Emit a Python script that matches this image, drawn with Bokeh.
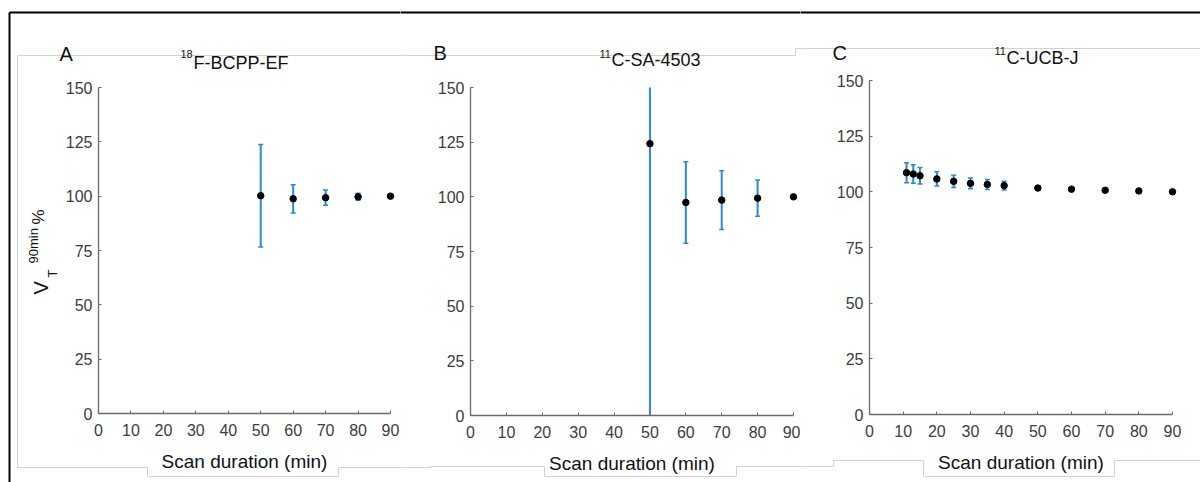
import math
from bokeh.plotting import figure
from bokeh.models import Range1d, FixedTicker
from bokeh.core.properties import value
from bokeh.layouts import row
from bokeh.embed import file_html
from bokeh.resources import INLINE

# ---------------- data ----------------
x_tick_values = [0, 10, 20, 30, 40, 50, 60, 70, 80, 90]
y_tick_values = [0, 25, 50, 75, 100, 125, 150]

panel_letters = ["A", "B", "C"]
tracer_isotopes = ["18", "11", "11"]
tracer_names = ["F-BCPP-EF", "C-SA-4503", "C-UCB-J"]
x_label = "Scan duration (min)"

a_duration = [50, 60, 70, 80, 90]
a_vt_pct = [100.2, 98.8, 99.3, 99.7, 100.0]
a_err = [23.6, 6.5, 3.5, 1.6, 0.0]

b_duration = [50, 60, 70, 80, 90]
b_vt_pct = [124.3, 97.4, 98.5, 99.4, 100.0]
b_err = [140.0, 18.6, 13.4, 8.3, 0.0]

c_duration = [11, 13, 15, 20, 25, 30, 35, 40, 50, 60, 70, 80, 90]
c_vt_pct = [108.6, 108.0, 107.2, 105.8, 104.7, 103.8, 103.3, 102.8, 101.7, 101.2, 100.7, 100.4, 100.0]
c_err = [4.5, 4.2, 3.7, 3.2, 2.7, 2.4, 2.2, 2.0, 1.0, 0.8, 0.6, 0.4, 0.0]

X_MIN, X_MAX = 0, 90
Y_MIN, Y_MAX = 0, 150

FONT = "Liberation Sans"
BLUE = "#2a8bd3"
AXIS = "#6a6a6a"
TICKLAB = "#3c3c3c"
GREY = "#d2d2d2"

TOP_PAGE = 0
BOTTOM_PAGE = 482
# page geometry: figure x extent, pixel of x=0, x=90, y=0, y=150
geo = [
    dict(x0=0, x1=400, ox=98, ex=390, oy=413, ey=87),
    dict(x0=400, x1=800, ox=470, ex=793, oy=415, ey=87),
    dict(x0=800, x1=1200, ox=869, ex=1172, oy=414, ey=80),
]

# decorative frame lines (page coordinates): (x1, y1, x2, y2)
black_lines = [(9, 12, 1200, 12), (9, 12, 9, 482)]
grey_lines = [(17, 55, 795, 55), (795, 55, 795, 48), (795, 48, 1200, 48),
              (17, 55, 17, 467), (17, 467, 147, 467), (147, 467, 147, 476), (147, 476, 338, 476),
              (338, 476, 338, 467), (338, 467, 430, 467), (430, 467, 430, 466), (430, 466, 544, 466),
              (544, 466, 544, 476), (544, 476, 736, 476), (736, 476, 736, 466), (736, 466, 833, 466),
              (833, 466, 833, 460), (833, 460, 923, 460), (923, 460, 923, 476), (923, 476, 1114, 476),
              (1114, 476, 1114, 460), (1114, 460, 1200, 460)]


def mapper(g):
    sx = (g["ex"] - g["ox"]) / (X_MAX - X_MIN)
    sy = (g["oy"] - g["ey"]) / (Y_MAX - Y_MIN)
    fx = lambda px: (px - g["ox"]) / sx
    fy = lambda py: (g["oy"] - py) / sy
    return fx, fy


def txt(p, g, text, px, py, size, color="#111111", angle=0.0):
    fx, fy = mapper(g)
    p.text(x=[fx(px)], y=[fy(py)], text=[text], text_font=value(FONT),
           text_font_size=value(f"{size}px"), text_color=color,
           text_align="left", text_baseline="alphabetic", angle=angle)


def make_panel(i, xs, ys, errs):
    g = geo[i]
    fx, fy = mapper(g)
    W = g["x1"] - g["x0"]
    H = BOTTOM_PAGE - TOP_PAGE
    p = figure(frame_width=W, frame_height=H, min_border=0,
               x_range=Range1d(fx(g["x0"]), fx(g["x1"])),
               y_range=Range1d(fy(BOTTOM_PAGE), fy(TOP_PAGE)),
               output_backend="svg", toolbar_location=None)
    p.background_fill_color = "white"
    p.border_fill_color = "white"
    p.outline_line_color = None
    p.grid.visible = False
    p.xaxis.fixed_location = Y_MIN
    p.yaxis.fixed_location = X_MIN
    p.xaxis.bounds = (X_MIN, X_MAX)
    p.yaxis.bounds = (Y_MIN, Y_MAX)

    for ax in (p.xaxis, p.yaxis):
        ax.axis_line_color = AXIS
        ax.axis_line_width = 1.3
        ax.major_tick_line_color = AXIS
        ax.major_tick_line_width = 1.0
        ax.major_tick_in = 3
        ax.major_tick_out = 0
        ax.minor_tick_line_color = None
        ax.major_label_text_font = FONT
        ax.major_label_text_font_size = "16px"
        ax.major_label_text_color = TICKLAB
    p.xaxis.ticker = FixedTicker(ticks=x_tick_values)
    p.yaxis.ticker = FixedTicker(ticks=y_tick_values)
    p.xaxis.major_label_standoff = 10
    p.yaxis.major_label_standoff = 6
    p.xaxis.axis_label = x_label
    p.xaxis.axis_label_text_font = FONT
    p.xaxis.axis_label_text_font_size = "19px"
    p.xaxis.axis_label_text_font_style = "normal"
    p.xaxis.axis_label_text_color = "#111111"
    p.xaxis.axis_label_standoff = 12

    # decorative frame lines
    for (a, b, c, d) in grey_lines:
        p.segment(x0=[fx(a)], y0=[fy(b)], x1=[fx(c)], y1=[fy(d)], line_color=GREY, line_width=1)
    for (a, b, c, d) in black_lines:
        p.segment(x0=[fx(a)], y0=[fy(b)], x1=[fx(c)], y1=[fy(d)], line_color="black", line_width=2)

    # error bars, clipped to the axis limits
    lower = [max(y - e, Y_MIN) for y, e in zip(ys, errs)]
    upper = [min(y + e, Y_MAX) for y, e in zip(ys, errs)]
    p.segment(x0=xs, y0=lower, x1=xs, y1=upper, line_color=BLUE, line_width=2)
    cx, cy = [], []
    for x, y, e in zip(xs, ys, errs):
        if e > 0:
            if y - e >= Y_MIN:
                cx.append(x); cy.append(y - e)
            if y + e <= Y_MAX:
                cx.append(x); cy.append(y + e)
    p.scatter(x=cx, y=cy, marker="dash", size=5, line_color=BLUE, line_width=1.5)
    p.scatter(x=xs, y=ys, marker="circle", size=6.5, fill_color="black", line_color="black")
    return p


pa = make_panel(0, a_duration, a_vt_pct, a_err)
pb = make_panel(1, b_duration, b_vt_pct, b_err)
pc = make_panel(2, c_duration, c_vt_pct, c_err)

# panel letters and titles
txt(pa, geo[0], panel_letters[0], 59, 53, 20)
txt(pa, geo[0], tracer_isotopes[0], 180, 53, 11)
txt(pa, geo[0], tracer_names[0], 193, 62, 18)

txt(pb, geo[1], panel_letters[1], 433, 52, 20)
txt(pb, geo[1], tracer_isotopes[1], 599, 53, 11)
txt(pb, geo[1], tracer_names[1], 611, 59, 18)

txt(pc, geo[2], panel_letters[2], 832, 52, 20)
txt(pc, geo[2], tracer_isotopes[2], 994, 50, 11)
txt(pc, geo[2], tracer_names[2], 1006, 57, 18)

# y-axis label V_T^{90min} %
rot = math.pi / 2
txt(pa, geo[0], "V", 40, 294, 20, angle=rot)
txt(pa, geo[0], "T", 52, 277, 13, angle=rot)
txt(pa, geo[0], "90min", 33, 263, 13, angle=rot)
txt(pa, geo[0], "%", 38, 224, 17, angle=rot)

layout = row(pa, pb, pc)
open("out.html", "w").write(file_html(layout, INLINE))
